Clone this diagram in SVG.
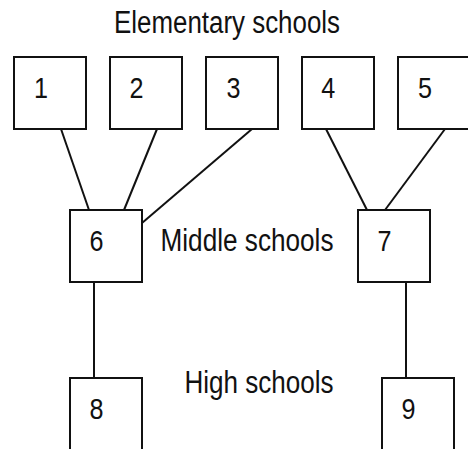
<svg xmlns="http://www.w3.org/2000/svg" width="468" height="449" viewBox="0 0 468 449">
<style>
.box{fill:#fff;stroke:#111;stroke-width:2}
.num{font-family:"Liberation Sans Narrow","Arial Narrow","Liberation Sans",sans-serif;font-stretch:condensed;font-size:30px;fill:#111;text-anchor:middle}
.lbl{font-family:"Liberation Sans Narrow","Arial Narrow","Liberation Sans",sans-serif;font-stretch:condensed;font-size:31px;fill:#111}
.edge{stroke:#111;stroke-width:2;fill:none}
</style>
<rect width="468" height="449" fill="#fff"/>
<text class="lbl" x="114" y="33.3" textLength="226" lengthAdjust="spacingAndGlyphs">Elementary schools</text>
<text class="lbl" x="160.5" y="250.5" textLength="173" lengthAdjust="spacingAndGlyphs">Middle schools</text>
<text class="lbl" x="184.5" y="393.3" textLength="149" lengthAdjust="spacingAndGlyphs">High schools</text>
<g id="connectors">
<line class="edge" x1="61" y1="129" x2="89" y2="210"/>
<line class="edge" x1="157" y1="129" x2="124" y2="210"/>
<line class="edge" x1="252" y1="129" x2="142" y2="223"/>
<line class="edge" x1="326" y1="129" x2="367" y2="210"/>
<line class="edge" x1="445" y1="129" x2="385" y2="210"/>
<line class="edge" x1="94" y1="282" x2="94" y2="378"/>
<line class="edge" x1="406" y1="282" x2="406" y2="378"/>
</g>
<g id="n1"><rect class="box" x="14" y="57" width="72" height="72"/><text class="num" x="41" y="98.3" textLength="14" lengthAdjust="spacingAndGlyphs">1</text></g>
<g id="n2"><rect class="box" x="110" y="57" width="72" height="72"/><text class="num" x="136.5" y="98.3" textLength="14" lengthAdjust="spacingAndGlyphs">2</text></g>
<g id="n3"><rect class="box" x="206" y="57" width="72" height="72"/><text class="num" x="233.5" y="98.3" textLength="14" lengthAdjust="spacingAndGlyphs">3</text></g>
<g id="n4"><rect class="box" x="302" y="57" width="72" height="72"/><text class="num" x="328.3" y="98.3" textLength="14" lengthAdjust="spacingAndGlyphs">4</text></g>
<g id="n5"><rect class="box" x="398" y="57" width="72" height="72"/><text class="num" x="425" y="98.3" textLength="14" lengthAdjust="spacingAndGlyphs">5</text></g>
<g id="n6"><rect class="box" x="70" y="210" width="72" height="72"/><text class="num" x="96.5" y="251" textLength="14" lengthAdjust="spacingAndGlyphs">6</text></g>
<g id="n7"><rect class="box" x="358" y="210" width="72" height="72"/><text class="num" x="384.5" y="251" textLength="14" lengthAdjust="spacingAndGlyphs">7</text></g>
<g id="n8"><rect class="box" x="70" y="378" width="72" height="100"/><text class="num" x="96.5" y="419.3" textLength="14" lengthAdjust="spacingAndGlyphs">8</text></g>
<g id="n9"><rect class="box" x="382" y="378" width="72" height="100"/><text class="num" x="408.5" y="419.3" textLength="14" lengthAdjust="spacingAndGlyphs">9</text></g>
</svg>
